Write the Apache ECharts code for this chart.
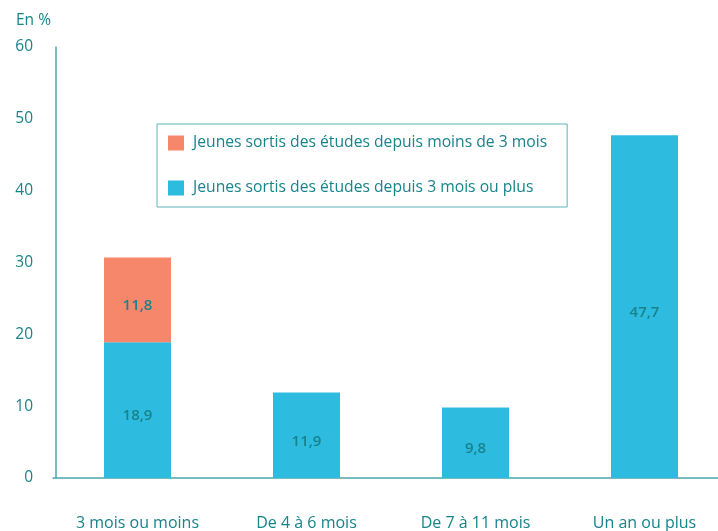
<!DOCTYPE html>
<html><head><meta charset="utf-8">
<script src="https://cdn.jsdelivr.net/npm/echarts@6/dist/echarts.min.js"></script>
<style>html,body{margin:0;padding:0;background:#fff}#c{width:718px;height:531px}</style>
</head><body><div id="c"></div>
<script>
var categories = ['3 mois ou moins', 'De 4 à 6 mois', 'De 7 à 11 mois', 'Un an ou plus'];
var seriesNames = ['Jeunes sortis des études depuis moins de 3 mois', 'Jeunes sortis des études depuis 3 mois ou plus'];
var moinsDe3Mois = [11.8, null, null, null];
var plusDe3Mois = [18.9, 11.9, 9.8, 47.7];
var yTicks = [0, 10, 20, 30, 40, 50, 60];

var teal = '#17838b';
var font = '"Open Sans", "Noto Sans", sans-serif';
var chart = echarts.init(document.getElementById('c'));
function fmt(p){ return p.value == null ? '' : String(p.value).replace('.', ','); }
chart.setOption({
  animation: false,
  textStyle: { fontFamily: font },
  title: { text: 'En %', left: 16, top: 13, padding: 0, textStyle: { fontSize: 15.5, fontWeight: 'normal', color: teal, fontFamily: font } },
  legend: {
    orient: 'vertical', left: 157, top: 124,
    padding: [11, 20, 11, 11], itemGap: 29, itemWidth: 16, itemHeight: 15,
    borderColor: '#5fb3b8', borderWidth: 1,
    icon: 'rect',
    textStyle: { fontSize: 15.7, color: teal, fontFamily: font, padding: [0, 0, 0, 4] },
    data: [seriesNames[0], seriesNames[1]]
  },
  grid: { left: 53, width: 676, top: 47, bottom: 53, outerBoundsMode: 'none', containLabel: false },
  xAxis: {
    type: 'category', data: categories,
    axisLine: { lineStyle: { color: '#4ea6ac', width: 1.5 } },
    axisTick: { show: false },
    axisLabel: { margin: 37, fontSize: 16, color: teal, fontFamily: font }
  },
  yAxis: {
    type: 'value', min: yTicks[0], max: yTicks[yTicks.length - 1], interval: 10, offset: -3,
    axisLine: { show: true, lineStyle: { color: '#4ea6ac', width: 1.5 } },
    axisTick: { show: false },
    splitLine: { show: false },
    axisLabel: { margin: 23, fontSize: 15.5, color: teal, fontFamily: font }
  },
  series: [
    { name: seriesNames[1], type: 'bar', stack: 's', data: plusDe3Mois, barWidth: 67,
      itemStyle: { color: '#2ebbe0' },
      label: { show: true, position: 'inside', offset: [0, 6], formatter: fmt, fontSize: 15, fontWeight: 600, color: teal, fontFamily: font } },
    { name: seriesNames[0], type: 'bar', stack: 's', data: moinsDe3Mois, barWidth: 67,
      itemStyle: { color: '#f7876a' },
      label: { show: true, position: 'inside', offset: [0, 6], formatter: fmt, fontSize: 15, fontWeight: 600, color: teal, fontFamily: font } }
  ]
});
</script></body></html>
